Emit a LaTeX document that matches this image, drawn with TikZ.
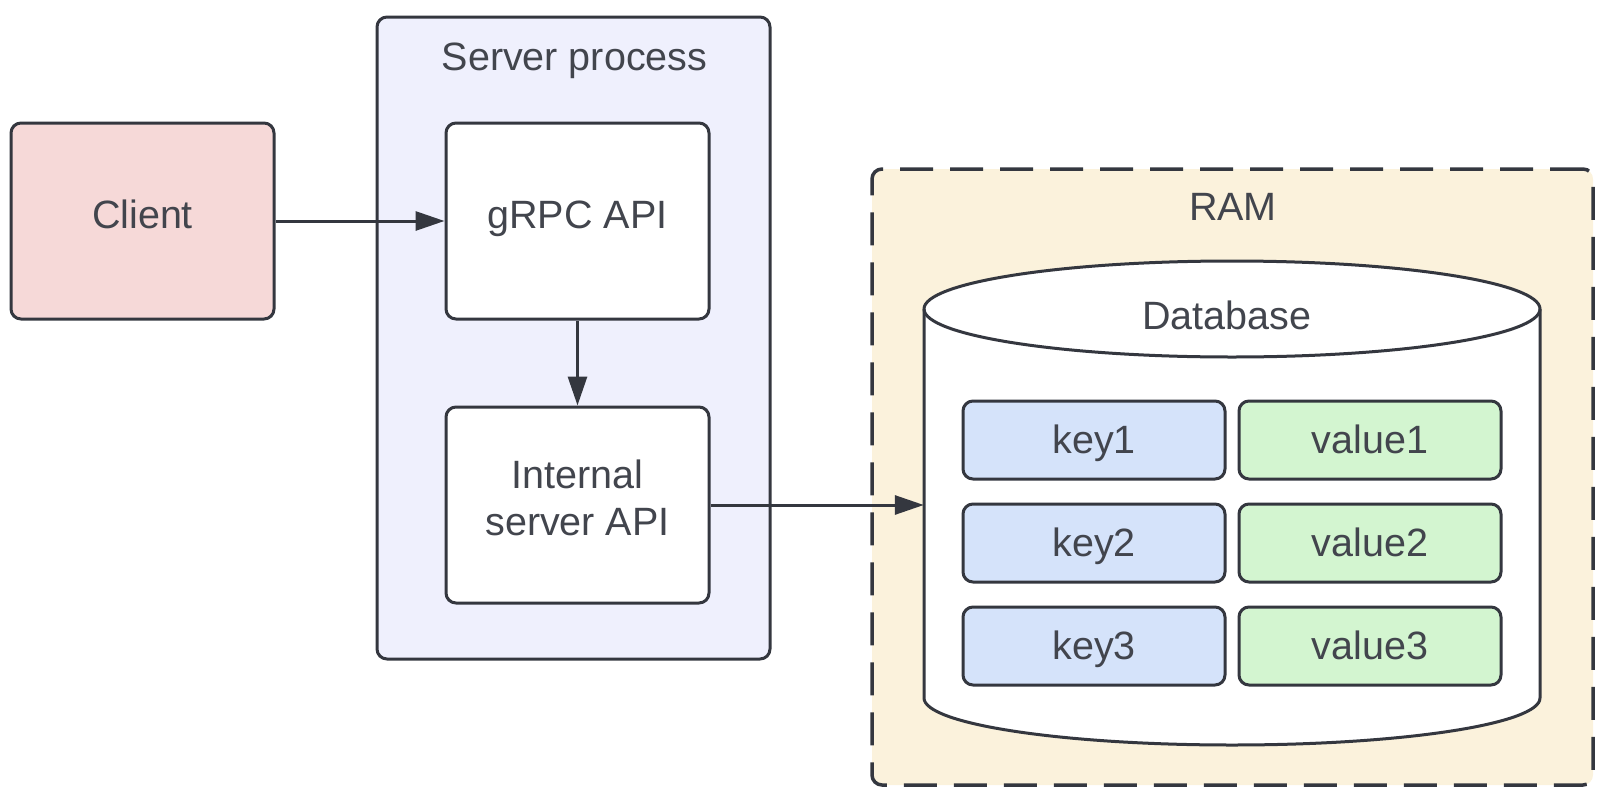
\documentclass[tikz,border=0pt]{standalone}
\usepackage{fontspec}
\setmainfont{Liberation Sans}
\usepackage{tikz}
\usetikzlibrary{arrows.meta,positioning,calc}
\definecolor{linegray}{HTML}{34373F}
\definecolor{textgray}{HTML}{42454D}
\definecolor{clientpink}{HTML}{F6D9D8}
\definecolor{serverblue}{HTML}{EFF0FD}
\definecolor{ramcream}{HTML}{FBF2DC}
\definecolor{keyblue}{HTML}{D5E3FA}
\definecolor{valuegreen}{HTML}{D3F5D0}

\begin{document}
\begin{tikzpicture}[x=1pt,y=1pt,
  box/.style={draw=linegray, line width=3pt, rounded corners=10pt, text=textgray, align=center, font=\fontsize{39.5}{47}\selectfont, inner sep=0pt},
  oneline/.style={text height=28.3pt, text depth=13pt},
  cell/.style={box, minimum width=262pt, minimum height=78pt, text height=28.3pt, text depth=2pt},
  heading/.style={text=textgray, font=\fontsize{39.5}{47}\selectfont, inner sep=0pt, text height=28.3pt, text depth=0pt},
  link/.style={draw=linegray, line width=3pt, -{Triangle[length=29pt,width=19pt]}}]
\useasboundingbox (0,0) rectangle (1604,-798);
\node[box, fill=serverblue, minimum width=393pt, minimum height=642pt] (server) at (573.5,-338) {};
\node[heading] (servertitle) at (574.5,-56.5) {Server process};
\node[box, oneline, fill=clientpink, minimum width=263pt, minimum height=196pt] (client) at (142.5,-221) {Client};
\node[box, oneline, fill=white, minimum width=263pt, minimum height=196pt, right=169pt of client] (grpc) {gRPC API};
\node[box, fill=white, minimum width=263pt, minimum height=196pt, text depth=15pt, below=85pt of grpc] (internal) {Internal\\server API};
\node[box, fill=ramcream, line width=3.5pt, dash pattern=on 33pt off 17pt, minimum width=721pt, minimum height=616pt] (ram) at (1232.5,-477) {};
\node[heading] (ramtitle) at (1233,-206) {RAM};
\node[minimum width=616pt, minimum height=484pt, inner sep=0pt] (db) at (1232,-503) {};
\draw[draw=linegray, line width=3pt, fill=white] (924,-309) -- (924,-698) arc[start angle=180, end angle=360, x radius=308, y radius=47] -- (1540,-309) arc[start angle=0, end angle=180, x radius=308, y radius=48] -- cycle;
\draw[draw=linegray, line width=3pt] (924,-309) arc[start angle=180, end angle=360, x radius=308, y radius=48];
\node[heading] (dbtitle) at (1227,-315) {Database};
\node[cell, fill=keyblue] (key1) at (1094,-440) {key1};
\node[cell, fill=valuegreen, right=11pt of key1] (value1) {value1};
\node[cell, fill=keyblue] (key2) at (1094,-543) {key2};
\node[cell, fill=valuegreen, right=11pt of key2] (value2) {value2};
\node[cell, fill=keyblue] (key3) at (1094,-646) {key3};
\node[cell, fill=valuegreen, right=11pt of key3] (value3) {value3};
\draw[link] (client) -- (grpc);
\draw[link] (grpc) -- (internal);
\draw[link] (internal.east) -- (db.west |- internal);
\end{tikzpicture}
\end{document}
